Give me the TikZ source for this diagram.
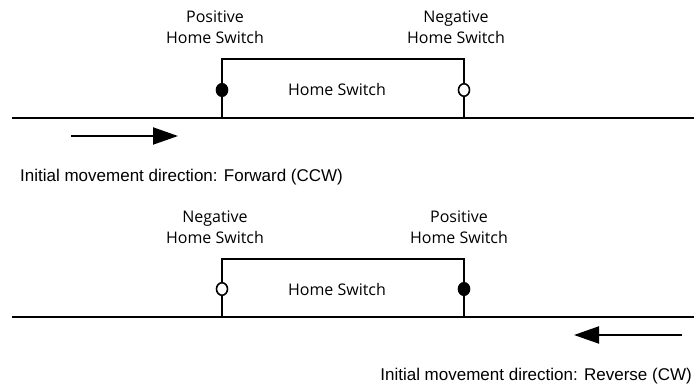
\documentclass[tikz,border=0pt]{standalone}
\usepackage{fontspec}
\setmainfont{Liberation Sans}
\newfontfamily\labelfont{Open Sans}
\usetikzlibrary{arrows.meta}
\tikzset{
  axisline/.style={line width=2.6pt},
  boxline/.style={line width=2pt},
  switchlabel/.style={font=\labelfont\fontsize{16}{21}\selectfont, align=center, anchor=base, inner sep=0pt},
  boxlabel/.style={font=\labelfont\fontsize{16}{21}\selectfont, anchor=base, inner sep=0pt},
  dirlabel/.style={font=\fontsize{17}{20}\selectfont, inner sep=0pt},
  dot/.style={ellipse, draw, line width=1.6pt, minimum width=11pt, minimum height=12.5pt, inner sep=0pt},
  fulldot/.style={dot, fill=black},
  emptydot/.style={dot, fill=white},
  movearrow/.style={line width=2pt, -{Triangle[length=25pt,width=17pt]}}
}
\usetikzlibrary{shapes.geometric}
\begin{document}
\begin{tikzpicture}[x=1pt,y=-1pt]
\useasboundingbox (0,0) rectangle (694,387);
% ---------- top panel ----------
\coordinate (aL) at (12,118);
\coordinate (aR) at (694,118);
\coordinate (aBL) at (222,118);
\coordinate (aBR) at (464,118);
\coordinate (aTL) at (222,59);
\coordinate (aTR) at (464,59);
\draw[axisline] (aL) -- (aR);
\draw[boxline] (aBL) -- (aTL) -- (aTR) -- (aBR);
\node[fulldot] (aPos) at (222,90) {};
\node[emptydot] (aNeg) at (464,90) {};
\node[boxlabel] (aHome) at (337,96) {Home Switch};
\node[switchlabel] (aPosLbl) at (215,44) {Positive\\Home Switch};
\node[switchlabel] (aNegLbl) at (456,44) {Negative\\Home Switch};
\coordinate (aArS) at (71,136);
\coordinate (aArE) at (178,136);
\draw[movearrow] (aArS) -- (aArE);
\node[dirlabel, anchor=base west] (aDir) at (20,182) {Initial movement direction: Forward (CCW)};
% ---------- bottom panel ----------
\coordinate (bL) at (12,317);
\coordinate (bR) at (694,317);
\coordinate (bBL) at (222,317);
\coordinate (bBR) at (464,317);
\coordinate (bTL) at (222,259);
\coordinate (bTR) at (464,259);
\draw[axisline] (bL) -- (bR);
\draw[boxline] (bBL) -- (bTL) -- (bTR) -- (bBR);
\node[emptydot] (bNeg) at (222,289) {};
\node[fulldot] (bPos) at (464,289) {};
\node[boxlabel] (bHome) at (337,296) {Home Switch};
\node[switchlabel] (bNegLbl) at (215,244) {Negative\\Home Switch};
\node[switchlabel] (bPosLbl) at (459,244) {Positive\\Home Switch};
\coordinate (bArS) at (682,335);
\coordinate (bArE) at (574,335);
\draw[movearrow] (bArS) -- (bArE);
\node[dirlabel, anchor=base east] (bDir) at (692,381) {Initial movement direction: Reverse (CW)};
\end{tikzpicture}
\end{document}
